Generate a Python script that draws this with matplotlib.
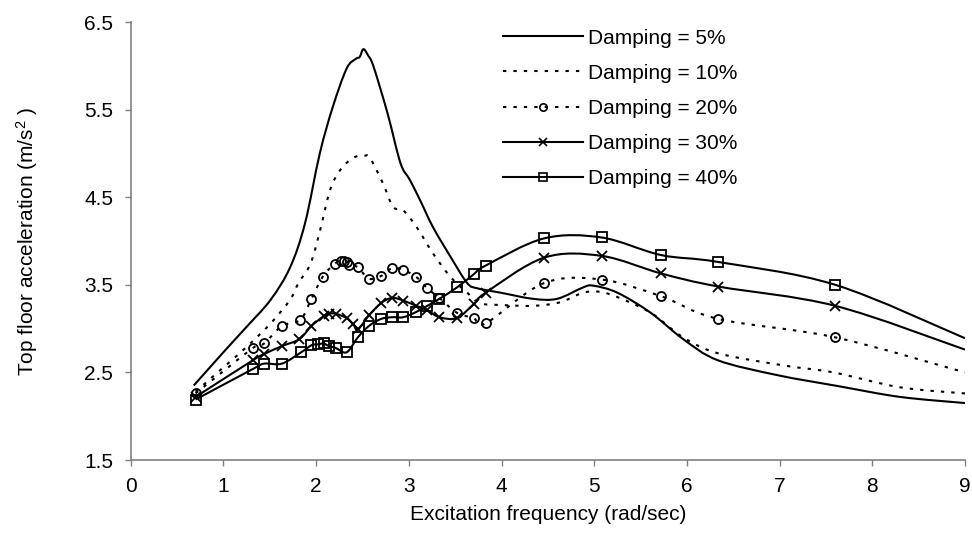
import numpy as np
import matplotlib
matplotlib.use('Agg')
import matplotlib.pyplot as plt
from matplotlib.path import Path
from matplotlib.patches import PathPatch
from matplotlib.lines import Line2D

plt.rcParams['font.family'] = ['Liberation Sans', 'DejaVu Sans']
plt.rcParams['mathtext.fontset'] = 'custom'
plt.rcParams['mathtext.rm'] = 'Liberation Sans'
plt.rcParams['mathtext.it'] = 'Liberation Sans:italic'
plt.rcParams['mathtext.default'] = 'regular'

# ---------------- data ----------------
series_labels = ['Damping = 5%', 'Damping = 10%', 'Damping = 20%',
                 'Damping = 30%', 'Damping = 40%']

freq_5 = [0.68, 1.00, 1.25, 1.51, 1.72, 1.88, 2.04, 2.18, 2.33, 2.43, 2.47, 2.51,
          2.56, 2.62, 2.77, 2.91, 3.01, 3.12, 3.26, 3.45, 3.63, 3.74, 3.99, 4.34,
          4.60, 4.88, 4.99, 5.25, 5.61, 5.96, 6.33, 6.97, 7.65, 8.30, 9.00]
acc_5 = [2.35, 2.73, 3.02, 3.33, 3.70, 4.20, 5.00, 5.53, 5.97, 6.08, 6.10, 6.19,
         6.12, 5.99, 5.46, 4.89, 4.70, 4.47, 4.16, 3.82, 3.52, 3.46, 3.41, 3.34,
         3.34, 3.47, 3.49, 3.41, 3.18, 2.88, 2.64, 2.47, 2.34, 2.22, 2.15]

freq_10 = [0.70, 0.97, 1.25, 1.51, 1.72, 1.81, 1.94, 2.04, 2.15, 2.26, 2.40, 2.51,
           2.58, 2.72, 2.83, 2.94, 3.09, 3.26, 3.45, 3.63, 3.77, 3.99, 4.34, 4.63,
           4.88, 5.06, 5.25, 5.61, 5.96, 6.33, 7.04, 7.58, 8.30, 9.00]
acc_10 = [2.28, 2.53, 2.79, 3.06, 3.33, 3.52, 3.74, 4.11, 4.58, 4.81, 4.95, 4.97,
          4.95, 4.66, 4.39, 4.35, 4.15, 3.86, 3.59, 3.41, 3.29, 3.27, 3.26, 3.30,
          3.41, 3.42, 3.36, 3.18, 2.90, 2.72, 2.58, 2.50, 2.33, 2.26]

freq_20 = [0.70, 1.32, 1.44, 1.63, 1.83, 1.95, 2.07, 2.20, 2.27, 2.30, 2.33, 2.36,
           2.45, 2.57, 2.70, 2.82, 2.94, 3.08, 3.20, 3.33, 3.52, 3.70, 3.83, 4.46,
           5.08, 5.72, 6.34, 7.60, 9.00]
acc_20 = [2.26, 2.78, 2.83, 3.03, 3.10, 3.34, 3.59, 3.74, 3.77, 3.77, 3.76, 3.73,
          3.70, 3.57, 3.60, 3.69, 3.67, 3.59, 3.46, 3.35, 3.18, 3.12, 3.06, 3.52,
          3.56, 3.37, 3.11, 2.90, 2.50]

freq_30 = [0.70, 1.32, 1.44, 1.63, 1.82, 1.95, 2.08, 2.14, 2.21, 2.33, 2.40, 2.45,
           2.57, 2.70, 2.82, 2.94, 3.08, 3.20, 3.33, 3.52, 3.70, 3.83, 4.46, 5.08,
           5.72, 6.34, 7.60, 9.00]
acc_30 = [2.22, 2.64, 2.71, 2.80, 2.88, 3.03, 3.14, 3.17, 3.17, 3.12, 3.05, 2.99,
          3.15, 3.29, 3.35, 3.32, 3.26, 3.21, 3.13, 3.12, 3.28, 3.41, 3.81, 3.83,
          3.63, 3.48, 3.26, 2.76]

freq_40 = [0.70, 1.32, 1.44, 1.63, 1.84, 1.95, 2.02, 2.08, 2.14, 2.21, 2.33, 2.45,
           2.57, 2.70, 2.82, 2.94, 3.08, 3.20, 3.33, 3.52, 3.70, 3.83, 4.46, 5.08,
           5.72, 6.34, 7.60, 9.00]
acc_40 = [2.19, 2.54, 2.60, 2.60, 2.73, 2.81, 2.82, 2.83, 2.80, 2.78, 2.73, 2.90,
          3.03, 3.11, 3.13, 3.13, 3.19, 3.26, 3.34, 3.47, 3.62, 3.72, 4.03, 4.04,
          3.84, 3.76, 3.50, 2.89]

x_ticks = [0, 1, 2, 3, 4, 5, 6, 7, 8, 9]
y_ticks = [1.5, 2.5, 3.5, 4.5, 5.5, 6.5]

# ---------------- styling ----------------
FS = 15
LW = 1.5
DOT = (0, (1.6, 3.4))
styles = [
    dict(ls='-', marker=None),
    dict(ls=DOT, marker=None),
    dict(ls=DOT, marker='o', ms=6.5),
    dict(ls='-', marker='x', ms=7.5),
    dict(ls='-', marker='s', ms=6.5),
]
all_x = [freq_5, freq_10, freq_20, freq_30, freq_40]
all_y = [acc_5, acc_10, acc_20, acc_30, acc_40]


def smooth_path(xs, ys):
    """Excel-like smoothed line: cubic Bezier segments through the points."""
    p = np.column_stack([xs, ys]).astype(float)
    n = len(p)
    verts = [p[0]]
    codes = [Path.MOVETO]
    for i in range(n - 1):
        p0 = p[i - 1] if i > 0 else p[i]
        p1 = p[i]
        p2 = p[i + 1]
        p3 = p[i + 2] if i + 2 < n else p[i + 1]
        c1 = p1 + (p2 - p0) / 6.0
        c2 = p2 - (p3 - p1) / 6.0
        verts += [c1, c2, p2]
        codes += [Path.CURVE4] * 3
    return Path(np.array(verts), codes)


fig = plt.figure(figsize=(9.72, 5.33), dpi=100)
W, H = 972, 533
x0, x1, ytop, ybot = 130.7, 965.0, 22.0, 460.0
ax = fig.add_axes([x0 / W, (H - ybot) / H, (x1 - x0) / W, (ybot - ytop) / H])

handles = []
for xs, ys, st, lab in zip(all_x, all_y, styles, series_labels):
    patch = PathPatch(smooth_path(xs, ys), fill=False, edgecolor='black',
                      lw=LW, linestyle=st['ls'], capstyle='butt',
                      joinstyle='round', transform=ax.transData)
    ax.add_patch(patch)
    if st['marker']:
        ax.plot(xs[:-1], ys[:-1], ls='none', marker=st['marker'],
                ms=st['ms'], mfc='none', mec='black', mew=1.3, zorder=3)
        h = Line2D([], [], color='black', lw=LW, ls=st['ls'],
                   marker=st['marker'], ms=st['ms'] - 1.2, mfc='none',
                   mec='black', mew=1.2)
    else:
        h = Line2D([], [], color='black', lw=LW, ls=st['ls'])
    handles.append(h)

ax.set_xlim(0, 9)
ax.set_ylim(1.5, 6.5)
ax.set_xticks(x_ticks)
ax.set_yticks(y_ticks)
ax.set_yticklabels([f'{v:.1f}' for v in y_ticks])

for s in ['top', 'right']:
    ax.spines[s].set_visible(False)
for s in ['left', 'bottom']:
    ax.spines[s].set_color('#808080')
    ax.spines[s].set_linewidth(1.2)
ax.tick_params(direction='out', length=4.5, width=1.0, color='#808080',
               labelsize=FS, labelcolor='black', pad=8)

ax.set_xlabel('Excitation frequency (rad/sec)', fontsize=FS, labelpad=6)
ax.set_ylabel('Top floor acceleration (m/s$^{2}$ )', fontsize=FS, labelpad=32)

leg = ax.legend(handles, series_labels, loc='upper left',
                bbox_to_anchor=(503 / W, 1 - 28.5 / H), bbox_transform=fig.transFigure,
                frameon=False, fontsize=FS, handlelength=3.85, handletextpad=0.24,
                labelspacing=0.78, borderpad=0.0, borderaxespad=0.0, numpoints=1)

fig.savefig('out.png', dpi=100)
